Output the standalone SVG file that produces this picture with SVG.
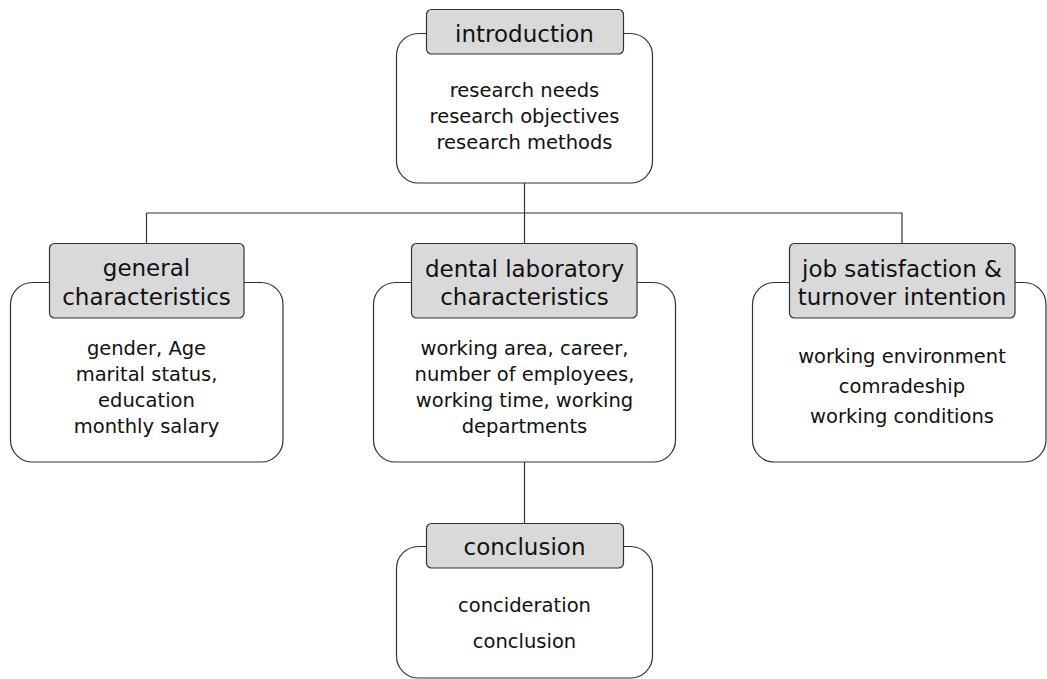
<svg xmlns="http://www.w3.org/2000/svg" width="1047" height="679" viewBox="0 0 1047 679">
  <style>
    .outer { fill: #ffffff; stroke: #333333; stroke-width: 1.2; }
    .label { fill: #d9d9d9; stroke: #333333; stroke-width: 1.2; }
    .title { font-family: "DejaVu Sans", "Liberation Sans", sans-serif; font-size: 23px; fill: #111111; text-anchor: middle; }
    .body { font-family: "DejaVu Sans", "Liberation Sans", sans-serif; font-size: 19.5px; fill: #111111; text-anchor: middle; }
    .conn { fill: none; stroke: #333333; stroke-width: 1.2; }
  </style>
  <rect width="1047" height="679" fill="#ffffff"/>

  <g id="connectors">
    <path class="conn" d="M524.5 183 V213"/>
    <path class="conn" d="M146.5 213 H902"/>
    <path class="conn" d="M146.5 213 V243"/>
    <path class="conn" d="M524.5 213 V243"/>
    <path class="conn" d="M902 213 V243"/>
    <path class="conn" d="M524.5 462 V523"/>
  </g>

  <g id="introduction">
    <rect class="outer" x="396.5" y="33.5" width="256" height="149.5" rx="22"/>
    <rect class="label" x="426.5" y="9.5" width="197" height="44.5" rx="5"/>
    <text class="title" x="524.5" y="42">introduction</text>
    <text class="body" x="524.5" y="97">research needs</text>
    <text class="body" x="524.5" y="123">research objectives</text>
    <text class="body" x="524.5" y="149">research methods</text>
  </g>

  <g id="general">
    <rect class="outer" x="10.5" y="282.5" width="272.5" height="179.5" rx="22"/>
    <rect class="label" x="49.5" y="243.5" width="194.5" height="74.5" rx="5"/>
    <text class="title" x="146.5" y="276">general</text>
    <text class="title" x="146.5" y="305">characteristics</text>
    <text class="body" x="146.5" y="355">gender, Age</text>
    <text class="body" x="146.5" y="381">marital status,</text>
    <text class="body" x="146.5" y="407">education</text>
    <text class="body" x="146.5" y="433">monthly salary</text>
  </g>

  <g id="dental">
    <rect class="outer" x="373.5" y="282.5" width="302" height="179.5" rx="22"/>
    <rect class="label" x="411.5" y="243.5" width="225.5" height="74.5" rx="5"/>
    <text class="title" x="524.5" y="277">dental laboratory</text>
    <text class="title" x="524.5" y="305">characteristics</text>
    <text class="body" x="524.5" y="355">working area, career,</text>
    <text class="body" x="524.5" y="381">number of employees,</text>
    <text class="body" x="524.5" y="407">working time, working</text>
    <text class="body" x="524.5" y="433">departments</text>
  </g>

  <g id="job-satisfaction">
    <rect class="outer" x="752.5" y="282.5" width="293.5" height="179.5" rx="22"/>
    <rect class="label" x="789.5" y="243.5" width="225.5" height="74.5" rx="5"/>
    <text class="title" x="902" y="277">job satisfaction &amp;</text>
    <text class="title" x="902" y="305">turnover intention</text>
    <text class="body" x="902" y="363">working environment</text>
    <text class="body" x="902" y="393">comradeship</text>
    <text class="body" x="902" y="423">working conditions</text>
  </g>

  <g id="conclusion">
    <rect class="outer" x="396.5" y="546.5" width="256" height="131.5" rx="22"/>
    <rect class="label" x="426.5" y="523.5" width="197" height="44.5" rx="5"/>
    <text class="title" x="524.5" y="555">conclusion</text>
    <text class="body" x="524.5" y="612">concideration</text>
    <text class="body" x="524.5" y="648">conclusion</text>
  </g>
</svg>
